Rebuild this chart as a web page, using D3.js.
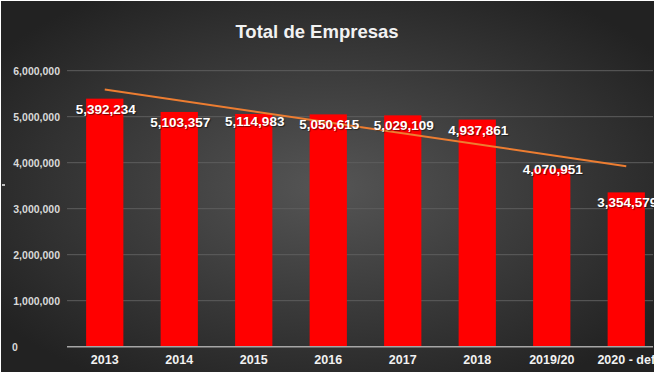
<!DOCTYPE html>
<html>
<head>
<meta charset="utf-8">
<script src="https://cdn.jsdelivr.net/npm/d3@7/dist/d3.min.js"></script>
<style>
  html, body { margin: 0; padding: 0; background: #fff; }
  svg { display: block; }
  text { font-family: "Liberation Sans", Arial, sans-serif; }
</style>
</head>
<body>
<div id="chart"></div>
<script>
const width = 658, height = 372;

// data
const years = ["2013", "2014", "2015", "2016", "2017", "2018", "2019/20", "2020 - def"];
const totals = [5392234, 5103357, 5114983, 5050615, 5029109, 4937861, 4070951, 3354579];
// bar heights as drawn (the 2019/20 bar is shorter than its label says)
const barHeights = [5392234, 5103357, 5060000, 5050615, 5029109, 4937861, 3870000, 3354579];
const yTicks = [0, 1000000, 2000000, 3000000, 4000000, 5000000, 6000000];

const chartW = 653;   // picture is cropped on the right

const svg = d3.select("#chart")
    .append("svg")
    .attr("width", width)
    .attr("height", height);

const defs = svg.append("defs");
const grad = defs.append("radialGradient")
    .attr("id", "bg")
    .attr("cx", "50%").attr("cy", "50%").attr("r", "62%");
grad.append("stop").attr("offset", "0%").attr("stop-color", "#555555");
grad.append("stop").attr("offset", "100%").attr("stop-color", "#222222");

defs.append("clipPath").attr("id", "clip")
    .append("rect").attr("x", 1).attr("y", 1).attr("width", chartW).attr("height", height - 1);

const root = svg.append("g").attr("clip-path", "url(#clip)");

root.append("rect")
    .attr("x", 1).attr("y", 1)
    .attr("width", chartW).attr("height", height - 1)
    .attr("fill", "url(#bg)");

const x = d3.scaleBand()
    .domain(years)
    .range([67.5, 663.5])
    .paddingInner(0.5)
    .paddingOuter(0.25);

const y = d3.scaleLinear()
    .domain([0, 6000000])
    .range([346.7, 70.7]);

// gridlines
root.append("g")
    .selectAll("line")
    .data(yTicks.slice(1))
    .join("line")
    .attr("x1", 67).attr("x2", chartW)
    .attr("y1", d => y(d)).attr("y2", d => y(d))
    .attr("stroke", "#5e5e5e")
    .attr("stroke-width", 1);

// y axis labels
const yAxis = root.append("g")
    .attr("transform", "translate(60,0)")
    .call(d3.axisLeft(y).tickValues(yTicks).tickSize(0).tickPadding(0)
        .tickFormat(d => d === 0 ? "0" : d3.format(",")(d)));
yAxis.select(".domain").remove();
yAxis.selectAll("text")
    .attr("fill", "#d9d9d9")
    .style("font-size", "10.5px")
    .style("font-weight", "bold");
yAxis.selectAll(".tick").filter(d => d === 0).select("text")
    .attr("text-anchor", "start")
    .attr("x", -48);

// bars
root.append("g")
    .selectAll("rect")
    .data(years)
    .join("rect")
    .attr("x", d => x(d))
    .attr("width", x.bandwidth())
    .attr("y", (d, i) => y(barHeights[i]))
    .attr("height", (d, i) => y(0) - y(barHeights[i]))
    .attr("fill", "#ff0000");

// baseline
root.append("line")
    .attr("x1", 67).attr("x2", chartW)
    .attr("y1", y(0)).attr("y2", y(0))
    .attr("stroke", "#a6a6a6")
    .attr("stroke-width", 1.5);

// linear trend line (least squares on the totals)
const n = totals.length;
const xs = d3.range(1, n + 1);
const mx = d3.mean(xs), my = d3.mean(totals);
const slope = d3.sum(xs, (v, i) => (v - mx) * (totals[i] - my)) / d3.sum(xs, v => (v - mx) * (v - mx));
const trend = xs.map(v => my + slope * (v - mx));
const cx = d => x(d) + x.bandwidth() / 2;

root.append("line")
    .attr("x1", cx(years[0])).attr("y1", y(trend[0]))
    .attr("x2", cx(years[n - 1])).attr("y2", y(trend[n - 1]))
    .attr("stroke", "#ed7d31")
    .attr("stroke-width", 2);

// data labels
root.append("g")
    .selectAll("text")
    .data(years)
    .join("text")
    .attr("x", d => cx(d) + 1)
    .attr("y", (d, i) => y(totals[i]) + 15)
    .attr("text-anchor", "middle")
    .attr("fill", "#ffffff")
    .style("font-size", "13.5px")
    .style("font-weight", "bold")
    .style("text-shadow", "1px 1px 1px rgba(0,0,0,0.5)")
    .text((d, i) => d3.format(",")(totals[i]));

// x axis labels
const xAxis = root.append("g")
    .attr("transform", `translate(0,${y(0)})`)
    .call(d3.axisBottom(x).tickSize(0).tickPadding(8));
xAxis.select(".domain").remove();
xAxis.selectAll("text")
    .attr("fill", "#f2f2f2")
    .style("font-size", "12.5px")
    .style("font-weight", "bold");

// title
root.append("text")
    .attr("x", 317).attr("y", 38)
    .attr("text-anchor", "middle")
    .attr("fill", "#f2f2f2")
    .style("font-size", "18.5px")
    .style("font-weight", "bold")
    .text("Total de Empresas");

// small remnant mark on the left edge
root.append("rect")
    .attr("x", 2).attr("y", 184)
    .attr("width", 3).attr("height", 2)
    .attr("fill", "#bfbfbf");
</script>
</body>
</html>
